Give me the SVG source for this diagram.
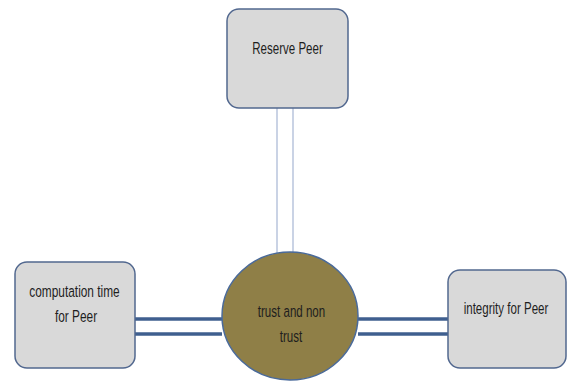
<svg xmlns="http://www.w3.org/2000/svg" width="567" height="390" viewBox="0 0 567 390">
<style>
.box{fill:#d9d9d9;stroke:#52688f;stroke-width:1.5}
.t{font-family:"Liberation Sans",Arial,sans-serif;font-size:16.5px;fill:#1e1e1e;text-anchor:middle}
.thick{stroke:#3f5f8f;stroke-width:3.5;fill:none}
.thin{stroke:#b9c4dc;stroke-width:1.5;fill:none}
</style>
<rect width="567" height="390" fill="#ffffff"/>
<g id="connectors">
<line class="thin" x1="277" y1="108" x2="277" y2="254"/>
<line class="thin" x1="293" y1="108" x2="293" y2="254"/>
<line class="thick" x1="135" y1="319" x2="222" y2="319"/>
<line class="thick" x1="135" y1="334" x2="222" y2="334"/>
<line class="thick" x1="358" y1="319" x2="448" y2="319"/>
<line class="thick" x1="358" y1="334" x2="448" y2="334"/>
</g>
<g id="reserve">
<rect class="box" x="227" y="9" width="121" height="99" rx="12"/>
<text class="t" transform="translate(287.5,54) scale(0.7,1)">Reserve Peer</text>
</g>
<g id="computation">
<rect class="box" x="15" y="262" width="120" height="106" rx="12"/>
<text class="t" transform="translate(74.5,296.5) scale(0.72,1)">computation time</text>
<text class="t" transform="translate(76,321.5) scale(0.72,1)">for Peer</text>
</g>
<g id="integrity">
<rect class="box" x="448" y="270" width="118" height="98" rx="12"/>
<text class="t" transform="translate(506,314) scale(0.7,1)">integrity for Peer</text>
</g>
<g id="trust">
<ellipse cx="290" cy="316" rx="68" ry="64" fill="#8f7f47" stroke="#4a6a9a" stroke-width="1.5"/>
<text class="t" transform="translate(291.5,316.5) scale(0.7,1)">trust and non</text>
<text class="t" transform="translate(291,341.5) scale(0.7,1)">trust</text>
</g>
</svg>
